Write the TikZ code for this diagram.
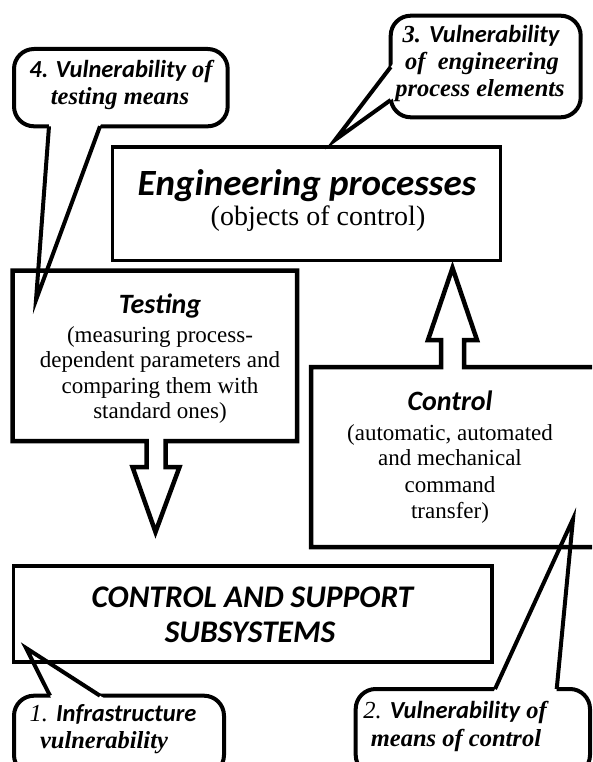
\documentclass[tikz,border=0pt]{standalone}
\usepackage{fontspec}
\setmainfont{Liberation Serif}
\newfontfamily\carl{Carlito}
\usetikzlibrary{calc}
\newcommand\sbi{\carl\bfseries\itshape}
\newcommand\rbi{\rmfamily\bfseries\itshape}
\newcommand\rit{\rmfamily\itshape}
\begin{document}
\begin{tikzpicture}[x=1pt,y=-1pt,
  boxframe/.style={draw, fill=white, line width=#1, inner sep=0pt},
  outline/.style={draw, fill=white, line width=#1, line join=miter, miter limit=20},
  bubble/.style={draw, fill=white, line width=4pt, rounded corners=20pt, inner sep=0pt},
  ptr/.style={draw, line width=4pt, line join=miter, miter limit=20},
  ln/.style={inner sep=0pt, anchor=base},
  bigsans/.style={ln, font=\sbi\fontsize{#1}{#1}\selectfont},
  body/.style={ln, font=\rmfamily\fontsize{23}{25}\selectfont},
  ctext/.style={ln, font=\fontsize{24.5}{26}\selectfont},
]
\useasboundingbox (0,0) rectangle (592,762);
\clip (0,0) rectangle (592,762);

% ---------- main boxes ----------
\node[boxframe=3.5pt, minimum width=388.2pt, minimum height=113.7pt] (eng) at (306.6,203.85) {};
\node[boxframe=3.5pt, minimum width=478.7pt, minimum height=96pt] (css) at (252.65,614) {};

% Testing box with down block arrow
\path[outline=4.5pt] (12.5,270.5) -- (297,270.5) -- (297,441) -- (165.5,441) -- (165.5,467)
   -- (179.5,467) -- (155.5,532) -- (132.5,467) -- (146.5,467) -- (146.5,441) -- (12.5,441) -- cycle;
\node[minimum width=284pt, minimum height=170pt] (test) at (154.75,355.75) {};

% Control box with up block arrow (open to the right)
\path[outline=4.5pt] (600,367) -- (464,367) -- (464,340) -- (477,340) -- (452.5,268)
   -- (428,340) -- (441,340) -- (441,367) -- (311,367) -- (311,547) -- (600,547);
\node[minimum width=280pt, minimum height=180pt] (ctrl) at (451,457) {};

% ---------- texts in boxes ----------
\node[bigsans=37] (engt) at (307,195) {Engineering processes};
\node[ln, font=\rmfamily\fontsize{28}{30}\selectfont] (engs) at (318,225) {(objects of control)};

\node[bigsans=28] (testt) at (160,313) {Testing};
\node[body] (tb1) at (160,342) {(measuring process-};
\node[body] (tb2) at (160,367) {dependent parameters and};
\node[body] (tb3) at (160,393) {comparing them with};
\node[body] (tb4) at (160,418) {standard ones)};

\node[bigsans=28] (ctrlt) at (450,410) {Control};
\node[body] (cb1) at (450,440) {(automatic, automated};
\node[body] (cb2) at (450,465) {and mechanical};
\node[body] (cb3) at (450,492) {command};
\node[body] (cb4) at (450,518) {transfer)};

\node[bigsans=31.5] (css1) at (252.5,607) {CONTROL AND SUPPORT};
\node[bigsans=31.5] (css2) at (250,642) {SUBSYSTEMS};

% ---------- callouts ----------
% 4
\node[bubble, minimum width=213.7pt, minimum height=77.3pt] (c4) at (120.85,87.65) {};
\coordinate (t4) at (36,300);
\coordinate (a4) at (49,126.3);
\coordinate (b4) at (100,126.3);
% 3
\node[bubble, minimum width=190pt, minimum height=101.6pt] (c3) at (485.7,66.5) {};
\coordinate (t3) at (335,140);
\coordinate (a3) at (390.7,67);
\coordinate (b3) at (390.7,100);
% 1
\node[bubble, minimum width=210pt, minimum height=79.3pt] (c1) at (119,735.35) {};
\coordinate (t1) at (26,648);
\coordinate (a1) at (50,695.7);
\coordinate (b1) at (100,695.7);
% 2
\node[bubble, minimum width=234.3pt, minimum height=86pt] (c2) at (472.85,732) {};
\coordinate (t2) at (573,519);
\coordinate (a2) at (495,689);
\coordinate (b2) at (556.7,689);

\foreach \k in {4,3,1,2}{
  \fill[white] ($(a\k)!-6pt!(t\k)$) -- ($(a\k)!6pt!(t\k)$) -- ($(b\k)!6pt!(t\k)$) -- ($(b\k)!-6pt!(t\k)$) -- cycle;
  \draw[ptr] (a\k) -- (t\k) -- (b\k);
}

\node[ctext] (c4l1) at (121,78) {{\sbi 4. Vulnerability} {\rbi of}};
\node[ctext] (c4l2) at (120,105) {\rbi testing means};

\node[ctext] (c3l1) at (481,43) {{\rbi 3.} {\sbi Vulnerability}};
\node[ctext] (c3l2) at (482,70) {\rbi of~ engineering};
\node[ctext] (c3l3) at (480,97) {\rbi process elements};

\node[ctext] (c1l1) at (113,721) {{\rit 1.} {\sbi Infrastructure}};
\node[ctext] (c1l2) at (104,748) {\rbi vulnerability};

\node[ctext] (c2l1) at (455,718) {{\rit 2.} {\sbi Vulnerability} {\rbi of}};
\node[ctext] (c2l2) at (456,746) {\rbi means of control};
\end{tikzpicture}
\end{document}
